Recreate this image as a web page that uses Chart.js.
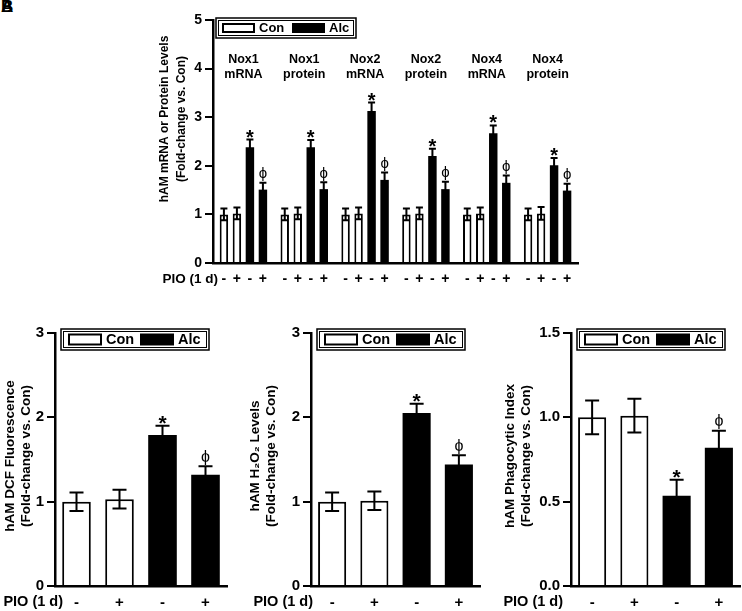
<!DOCTYPE html>
<html>
<head>
<meta charset="utf-8">
<script src="https://cdn.jsdelivr.net/npm/chart.js@4/dist/chart.umd.min.js"></script>
<style>
body{margin:0;background:#fff;width:742px;height:611px;position:relative;overflow:hidden}
canvas{position:absolute}
.tag{position:absolute;left:1px;top:-3px;font:bold 17px "Liberation Sans",Arial,sans-serif}
</style>
</head>
<body>
<div class="tag">A</div><div class="tag">B</div>
<canvas id="cTop" width="450" height="300" style="left:140px;top:0"></canvas>
<canvas id="cDcf" width="240" height="291" style="left:0;top:320px"></canvas>
<canvas id="cH2o2" width="245" height="291" style="left:245px;top:320px"></canvas>
<canvas id="cPhago" width="252" height="291" style="left:490px;top:320px"></canvas>
<script>
// panel A - Nox mRNA / protein
const groupNames = [['Nox1','mRNA'],['Nox1','protein'],['Nox2','mRNA'],['Nox2','protein'],['Nox4','mRNA'],['Nox4','protein']];
const conNoPio    = [1.00, 1.00, 1.00, 1.00, 1.00, 1.00];
const conPio      = [1.02, 1.02, 1.02, 1.02, 1.02, 1.02];
const alcNoPio    = [2.38, 2.38, 3.13, 2.20, 2.67, 2.01];
const alcPio      = [1.51, 1.52, 1.71, 1.52, 1.65, 1.49];
const conNoPioErr = [0.12, 0.12, 0.12, 0.12, 0.12, 0.12];
const conPioErr   = [0.12, 0.12, 0.12, 0.12, 0.12, 0.13];
const alcNoPioErr = [0.16, 0.15, 0.17, 0.15, 0.16, 0.15];
const alcPioErr   = [0.14, 0.14, 0.15, 0.15, 0.15, 0.14];

// panels B-D
const pioLabels   = ['-', '+', '-', '+'];
const sigMarks    = ['', '', '*', 'ϕ'];
const legendLabels = ['Con', 'Alc'];
const dcfValues   = [1.00, 1.03, 1.79, 1.32];
const dcfErr      = [0.11, 0.11, 0.11, 0.10];
const h2o2Values  = [1.00, 1.01, 2.05, 1.44];
const h2o2Err     = [0.11, 0.11, 0.11, 0.11];
const phagoValues = [1.00, 1.01, 0.535, 0.82];
const phagoErr    = [0.10, 0.10, 0.095, 0.10];

const FONT = '"Liberation Sans", Arial, sans-serif';
const barColors = ['#ffffff', '#ffffff', '#000000', '#000000'];

const extras = {
  id: 'extras',
  afterDraw(chart, args, o) {
    const ctx = chart.ctx, y = chart.scales.y, area = chart.chartArea;
    ctx.save();
    ctx.fillStyle = '#000';
    ctx.strokeStyle = '#000';
    // error bars + significance marks
    chart.data.datasets.forEach((ds, di) => {
      chart.getDatasetMeta(di).data.forEach((bar, i) => {
        const v = ds.data[i], e = ds.errors[i];
        const yt = y.getPixelForValue(v + e), yb = y.getPixelForValue(v - e);
        ctx.lineWidth = o.errWidth;
        ctx.beginPath();
        ctx.moveTo(bar.x, yt); ctx.lineTo(bar.x, yb);
        ctx.moveTo(bar.x - o.cap / 2, yt); ctx.lineTo(bar.x + o.cap / 2, yt);
        ctx.moveTo(bar.x - o.cap / 2, yb); ctx.lineTo(bar.x + o.cap / 2, yb);
        ctx.stroke();
        const m = ds.marks[i];
        ctx.textAlign = 'center';
        if (m === '*') {
          ctx.font = 'bold ' + o.starSize + 'px ' + FONT;
          ctx.textBaseline = 'alphabetic';
          ctx.fillText(m, bar.x, yt + o.starSize * 0.2);
        } else if (m) {
          ctx.font = o.phiSize + 'px ' + FONT;
          ctx.textBaseline = 'bottom';
          ctx.fillText(m, bar.x, yt - 1);
        }
        if (o.barTicks) {
          ctx.font = 'bold 14px ' + FONT;
          ctx.textBaseline = 'middle';
          ctx.fillText(pioLabels[di], bar.x, area.bottom + 16);
        }
      });
    });
    // group labels
    if (o.groups) {
      ctx.font = 'bold 12.5px ' + FONT;
      ctx.textAlign = 'center';
      ctx.textBaseline = 'middle';
      chart.data.labels.forEach((lab, i) => {
        const x = chart.scales.x.getPixelForValue(i);
        ctx.fillText(lab[0], x, 60);
        ctx.fillText(lab[1], x, 75);
      });
    }
    // PIO row label
    ctx.font = 'bold ' + o.pio.size + 'px ' + FONT;
    ctx.textAlign = 'right';
    ctx.textBaseline = 'middle';
    ctx.fillText('PIO (1 d)', area.left + o.pio.dx, area.bottom + o.pio.dy);
    // y title
    ctx.save();
    ctx.translate(o.title.x, o.title.y);
    ctx.rotate(-Math.PI / 2);
    ctx.font = 'bold ' + o.title.size + 'px ' + FONT;
    ctx.textAlign = 'center';
    ctx.textBaseline = 'middle';
    o.title.lines.forEach((t, k) => ctx.fillText(t, 0, k * o.title.gap));
    ctx.restore();
    // legend box
    const L = o.legend;
    const lx = area.left + L.dx, ly = area.top + L.dy;
    ctx.lineWidth = 1.5;
    ctx.fillStyle = '#fff';
    ctx.fillRect(lx, ly, L.w, L.h);
    ctx.strokeRect(lx, ly, L.w, L.h);
    ctx.lineWidth = 1;
    ctx.strokeRect(lx + 2.5, ly + 2.5, L.w - 5, L.h - 5);
    ctx.font = 'bold ' + L.size + 'px ' + FONT;
    ctx.textAlign = 'left';
    ctx.textBaseline = 'middle';
    legendLabels.forEach((t, k) => {
      const sx = lx + L.sw0 + k * L.step, sy = ly + L.h / 2 - L.sh / 2;
      ctx.lineWidth = 2;
      ctx.fillStyle = k === 0 ? '#fff' : '#000';
      ctx.fillRect(sx, sy, L.swW, L.sh);
      ctx.strokeRect(sx, sy, L.swW, L.sh);
      ctx.fillStyle = '#000';
      ctx.fillText(t, sx + L.swW + 5, ly + L.h / 2 + 0.5);
    });
    ctx.restore();
  }
};

function yAxis(max, step, width, fmt, size) {
  return {
    min: 0, max: max,
    afterFit: s => { s.width = width; },
    border: { display: true, color: '#000', width: 2.5 },
    grid: { display: true, drawOnChartArea: false, drawTicks: true, tickLength: 8, color: '#000', lineWidth: 2 },
    ticks: { stepSize: step, color: '#000', padding: 3, font: { family: FONT, weight: 'bold', size: size },
             callback: v => fmt ? v.toFixed(1) : v }
  };
}

// panel A
new Chart(document.getElementById('cTop'), {
  type: 'bar',
  data: {
    labels: groupNames,
    datasets: [conNoPio, conPio, alcNoPio, alcPio].map((d, k) => ({
      data: d,
      errors: [conNoPioErr, conPioErr, alcNoPioErr, alcPioErr][k],
      marks: d.map(() => sigMarks[k]),
      backgroundColor: barColors[k],
      borderColor: '#000',
      borderWidth: k < 2 ? 2 : 0,
      categoryPercentage: 0.855,
      barPercentage: 0.65
    }))
  },
  options: {
    responsive: false, animation: false,
    layout: { padding: { top: 20, right: 12, left: 0, bottom: 0 } },
    plugins: {
      legend: { display: false }, tooltip: { enabled: false },
      extras: {
        cap: 7, errWidth: 2, starSize: 20, phiSize: 15, barTicks: true, groups: true,
        pio: { size: 13.5, dx: 5, dy: 16 },
        title: { x: 25, y: 119, size: 12, gap: 16.5, lines: ['hAM mRNA or Protein Levels', '(Fold-change vs. Con)'] },
        legend: { dx: 3, dy: -2, w: 140, h: 20, size: 13, sw0: 7, step: 70, swW: 31, sh: 8 }
      }
    },
    scales: {
      x: {
        afterFit: s => { s.height = 37; },
        border: { display: true, color: '#000', width: 2.5 },
        grid: { display: false },
        ticks: { display: false }
      },
      y: yAxis(5, 1, 73, false, 14)
    }
  },
  plugins: [extras]
});

function bottomChart(id, values, errs, max, step, fmt, yWidth, padRight, title, titleX) {
  return new Chart(document.getElementById(id), {
    type: 'bar',
    data: {
      labels: pioLabels,
      datasets: [{
        data: values,
        errors: errs,
        marks: sigMarks,
        backgroundColor: barColors,
        borderColor: '#000',
        borderWidth: [2, 2, 0, 0],
        categoryPercentage: 1,
        barPercentage: 0.665
      }]
    },
    options: {
      responsive: false, animation: false,
      layout: { padding: { top: 13, right: padRight, left: 0, bottom: 0 } },
      plugins: {
        legend: { display: false }, tooltip: { enabled: false },
        extras: {
          cap: 14, errWidth: 2, starSize: 21, phiSize: 16, barTicks: false, groups: false,
          pio: { size: 14.5, dx: fmt ? -8 : (yWidth > 60 ? 2 : 8), dy: 16 },
          title: { x: titleX, y: 136, size: 13.5, gap: 16.5, lines: [title, '(Fold-change vs. Con)'] },
          legend: { dx: 6, dy: -4, w: 148, h: 21, size: 14.5, sw0: 8, step: 72, swW: 32, sh: 10 }
        }
      },
      scales: {
        x: {
          afterFit: s => { s.height = 25; },
          border: { display: true, color: '#000', width: 2.5 },
          grid: { display: false, drawTicks: false },
          ticks: { color: '#000', padding: 8, font: { family: FONT, weight: 'bold', size: 15 } }
        },
        y: yAxis(max, step, yWidth, fmt, 15)
      }
    },
    plugins: [extras]
  });
}

bottomChart('cDcf', dcfValues, dcfErr, 3, 1, false, 55, 13, 'hAM DCF Fluorescence', 10);
bottomChart('cH2o2', h2o2Values, h2o2Err, 3, 1, false, 66, 10, 'hAM H₂O₂ Levels', 10);
bottomChart('cPhago', phagoValues, phagoErr, 1.5, 0.5, true, 81, 2, 'hAM Phagocytic Index', 20);
</script>
</body>
</html>
